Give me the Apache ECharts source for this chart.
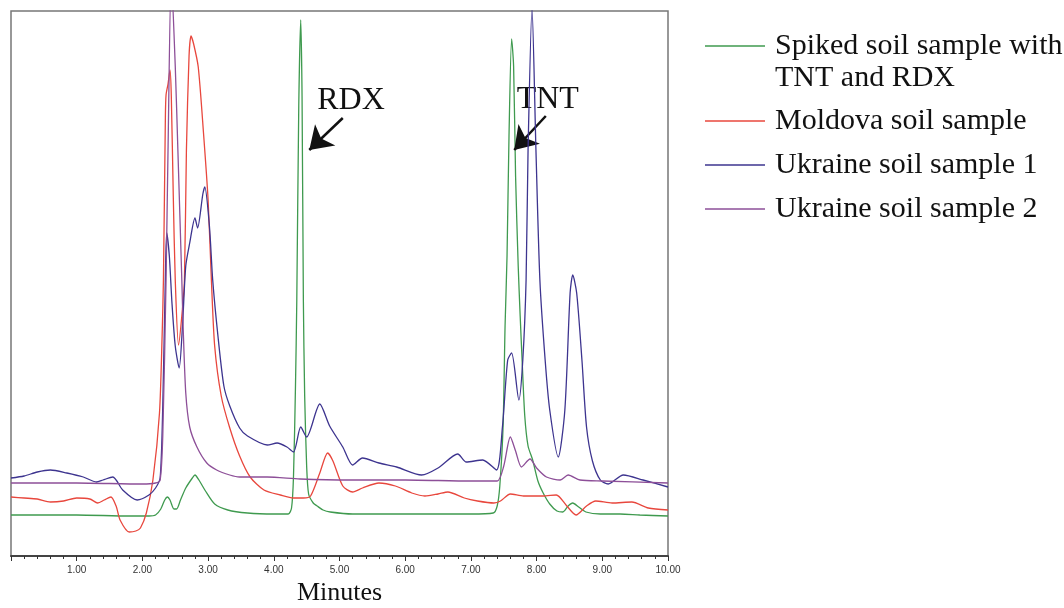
<!DOCTYPE html>
<html>
<head>
<meta charset="utf-8">
<script src="https://cdn.jsdelivr.net/npm/echarts@6/dist/echarts.min.js"></script>
<style>
html,body{margin:0;padding:0;background:#fff;}
#chart{width:1064px;height:608px;}
</style>
</head>
<body>
<div id="chart"></div>
<script>
// Retention time (minutes) vs detector response (arbitrary units)
const seriesNames = ['Spiked soil sample with TNT and RDX', 'Moldova soil sample', 'Ukraine soil sample 1', 'Ukraine soil sample 2'];

const spiked = [
[0,41],[1.0,41],[1.8,40],[2.1,40],[2.2,41],[2.28,47],[2.34,56],[2.38,59],[2.42,56],[2.48,47],[2.52,47],[2.58,56],[2.66,68],[2.76,78],[2.8,81],[2.86,76],[2.96,65],[3.1,52],[3.3,46],[3.6,43],[4.0,42],[4.22,42],[4.27,48],[4.3,80],[4.33,170],[4.35,256],[4.38,450],[4.41,536],[4.43,460],[4.45,256],[4.47,160],[4.5,90],[4.53,62],[4.6,53],[4.66,50],[4.75,46],[4.86,44],[5.2,42],[6.0,42],[7.0,42],[7.34,43],[7.40,50],[7.44,70],[7.49,130],[7.52,230],[7.55,300],[7.58,420],[7.62,517],[7.65,490],[7.68,380],[7.72,290],[7.75,240],[7.78,195],[7.82,140],[7.87,110],[7.94,96],[8.02,75],[8.10,63],[8.2,52],[8.31,45],[8.4,44],[8.48,50],[8.55,53],[8.64,49],[8.75,44],[8.97,42],[9.27,42],[9.57,41],[10,40]
];

const moldova = [
[0,59],[0.2,58],[0.4,57],[0.6,54],[0.8,55],[1.0,58],[1.2,57],[1.32,53],[1.42,56],[1.52,59],[1.6,50],[1.66,36],[1.8,24],[1.9,25],[1.97,28],[2.06,43],[2.16,76],[2.26,143],[2.3,220],[2.32,276],[2.35,440],[2.36,461],[2.39,472],[2.42,486],[2.44,460],[2.47,360],[2.5,276],[2.55,211],[2.6,240],[2.64,276],[2.67,406],[2.71,500],[2.74,520],[2.78,512],[2.85,489],[2.93,423],[3.0,356],[3.05,276],[3.1,210],[3.2,160],[3.33,128],[3.48,100],[3.64,79],[3.85,66],[4.1,61],[4.3,58],[4.45,58],[4.56,60],[4.7,83],[4.82,103],[4.9,95],[5.05,70],[5.2,64],[5.35,68],[5.6,73],[5.85,70],[6.1,63],[6.3,60],[6.5,62],[6.65,64],[6.9,58],[7.1,55],[7.35,53],[7.45,55],[7.6,62],[7.8,60],[8.1,60],[8.3,61],[8.46,50],[8.6,41],[8.76,50],[8.9,55],[9.15,53],[9.45,54],[9.7,48],[10,46]
];

const ukraine1 = [
[0,78],[0.2,80],[0.4,84],[0.6,86],[0.85,83],[1.1,79],[1.3,74],[1.4,76],[1.55,79],[1.7,66],[1.92,56],[2.1,61],[2.2,68],[2.27,78],[2.31,150],[2.35,280],[2.37,323],[2.41,300],[2.45,253],[2.5,210],[2.56,188],[2.61,230],[2.66,290],[2.72,313],[2.8,338],[2.84,328],[2.92,362],[2.95,369],[3.02,330],[3.07,276],[3.15,220],[3.24,170],[3.33,150],[3.48,128],[3.6,120],[3.9,111],[4.05,113],[4.2,109],[4.3,104],[4.41,129],[4.5,119],[4.7,152],[4.85,130],[5.05,109],[5.2,91],[5.35,98],[5.6,93],[5.87,89],[6.25,81],[6.5,88],[6.8,102],[6.93,94],[7.18,96],[7.39,86],[7.48,129],[7.56,196],[7.62,203],[7.73,156],[7.79,196],[7.84,276],[7.87,406],[7.93,548],[7.99,406],[8.05,276],[8.13,196],[8.2,146],[8.33,99],[8.43,146],[8.51,263],[8.55,281],[8.61,263],[8.69,196],[8.76,129],[8.85,95],[8.97,76],[9.09,72],[9.32,81],[9.62,76],[10,69]
];

const ukraine2 = [
[0,73],[1.0,73],[2.0,72],[2.2,73],[2.27,76],[2.31,120],[2.36,276],[2.39,406],[2.44,580],[2.5,490],[2.54,406],[2.6,276],[2.62,229],[2.66,163],[2.72,129],[2.83,109],[2.98,93],[3.13,86],[3.33,81],[3.48,79],[3.9,79],[4.4,77],[5.16,76],[6.0,76],[7.0,75],[7.4,75],[7.5,90],[7.6,119],[7.68,105],[7.77,89],[7.9,97],[8.0,88],[8.15,79],[8.36,76],[8.48,81],[8.66,76],[9.0,75],[10,73]
];

// Peak annotations (label anchor, arrow start, arrow tip) in data coordinates
const annotationLabels = ['RDX', 'TNT'];
const annotationTextAt = [[5.175, 455], [8.17, 456]];
const annotationArrowFrom = [[5.05, 438], [8.14, 440]];
const annotationArrowTo = [[4.54, 406], [7.66, 406]];

const xTicks = [0, 1, 2, 3, 4, 5, 6, 7, 8, 9, 10];

const colors = ['#3f9a4f', '#e8473d', '#3d348f', '#8d4f98'];
const serif = '"Liberation Serif", "Times New Roman", serif';

const chart = echarts.init(document.getElementById('chart'), null, {renderer: 'canvas'});

const allData = [spiked, moldova, ukraine1, ukraine2];
const series = allData.map((d, i) => ({
  name: seriesNames[i],
  type: 'line',
  data: d,
  symbol: 'none',
  smooth: 0.25,
  clip: true,
  z: 3 + i,
  lineStyle: {color: colors[i], width: 1.3},
  itemStyle: {color: colors[i]}
}));

series[0].markLine = {
  silent: true,
  symbol: ['none', 'arrow'],
  symbolSize: 22,
  label: {show: false},
  lineStyle: {color: '#111', width: 2.5, type: 'solid'},
  itemStyle: {color: '#111'},
  data: annotationArrowFrom.map((f, i) => [{coord: f}, {coord: annotationArrowTo[i]}])
};
series[0].markPoint = {
  silent: true,
  symbol: 'circle',
  symbolSize: 1,
  itemStyle: {color: 'rgba(0,0,0,0)'},
  label: {show: true, position: 'inside', formatter: p => p.name, fontFamily: serif, fontSize: 32, color: '#111'},
  data: annotationLabels.map((l, i) => ({name: l, coord: annotationTextAt[i]}))
};

const legendText = {fontFamily: serif, fontSize: 30, lineHeight: 32, color: '#111', padding: [0, 0, 0, 5]};

const option = {
  backgroundColor: '#fff',
  animation: false,
  grid: {left: 11, top: 11, right: 396, bottom: 52, show: true, borderColor: '#777', borderWidth: 1.5,
    backgroundColor: '#fff', containLabel: false, outerBoundsMode: 'none'},
  xAxis: {
    type: 'value', min: xTicks[0], max: xTicks[xTicks.length - 1], interval: 1,
    name: 'Minutes', nameLocation: 'middle', nameGap: 24,
    nameTextStyle: {fontFamily: serif, fontSize: 26, color: '#111'},
    axisLine: {show: true, lineStyle: {color: '#444', width: 2}},
    axisTick: {show: true, length: 5, lineStyle: {color: '#333', width: 1}},
    minorTick: {show: true, splitNumber: 5, length: 3, lineStyle: {color: '#333', width: 1}},
    splitLine: {show: false},
    axisLabel: {margin: 9, fontSize: 10, fontFamily: '"Liberation Sans", Arial, sans-serif', color: '#333',
      formatter: v => (v === 0 ? '' : v.toFixed(2)), showMaxLabel: true}
  },
  yAxis: {type: 'value', min: 0, max: 545, show: false, splitLine: {show: false}},
  legend: [
    {
      data: [seriesNames[0]], orient: 'vertical', left: 705, top: -2, padding: 0,
      icon: 'rect', itemWidth: 60, itemHeight: 1.5,
      formatter: () => '\nSpiked soil sample with\nTNT and RDX',
      textStyle: legendText
    },
    {
      data: seriesNames.slice(1), orient: 'vertical', left: 705, top: 105, padding: 0,
      icon: 'rect', itemWidth: 60, itemHeight: 1.5, itemGap: 12,
      textStyle: legendText
    }
  ],
  series: series
};
chart.setOption(option);
</script>
</body>
</html>
